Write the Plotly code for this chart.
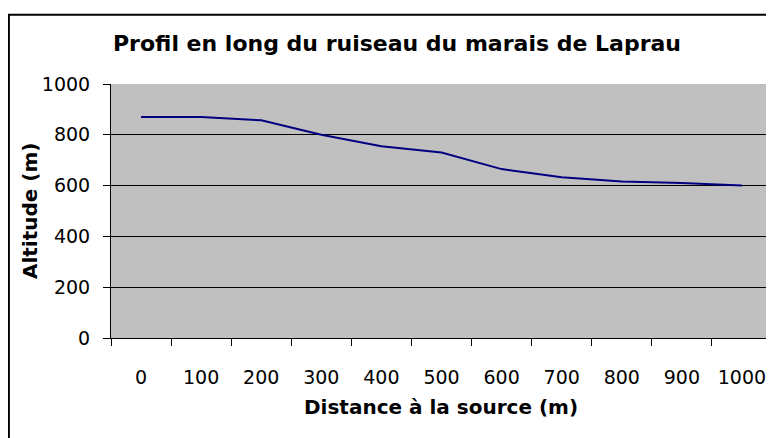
import plotly.graph_objects as go

distances = ["0", "100", "200", "300", "400", "500", "600", "700", "800", "900", "1000"]
altitudes = [870, 870, 857, 800, 755, 730, 665, 633, 616, 610, 600]

W, H = 774, 438
OFF = 8  # page body margin offset
# target plot area in screen pixels
PX0, PX1 = 110.7, 772.3
PY0, PY1 = 84.3, 338.3
L = PX0 - OFF
R = W - (PX1 - OFF)
T = PY0 - OFF
B = H - (PY1 - OFF)
pw = PX1 - PX0
ph = PY1 - PY0

def px_x(x):
    return (x - PX0) / pw

def px_y(y):
    return (PY1 - y) / ph

FONT = "DejaVu Sans"

fig = go.Figure()
fig.add_trace(go.Scatter(
    x=distances, y=altitudes, mode="lines",
    line=dict(color="#000080", width=2),
    hoverinfo="x+y", showlegend=False,
))

fig.update_layout(
    width=W, height=H,
    margin=dict(l=L, r=R, t=T, b=B, autoexpand=False),
    paper_bgcolor="white",
    plot_bgcolor="#C0C0C0",
    font=dict(family=FONT, size=19, color="black"),
    showlegend=False,
)

fig.update_xaxes(
    type="category", range=[-0.5, 10.5], tickson="boundaries",
    ticks="outside", ticklen=7, tickcolor="black", tickwidth=1,
    showgrid=False, showline=True, linecolor="black", linewidth=1,
    tickfont=dict(family=FONT, size=19, color="black"),
    ticklabelstandoff=22, zeroline=False,
)
fig.update_yaxes(
    range=[0, 1000], dtick=200, tick0=0,
    ticks="outside", ticklen=7, tickcolor="black", tickwidth=1,
    showgrid=True, gridcolor="black", gridwidth=1,
    showline=True, linecolor="black", linewidth=1,
    tickfont=dict(family=FONT, size=19, color="black"),
    ticklabelstandoff=9, zeroline=False,
)

# plot area border (grey) on right
fig.add_shape(type="line", xref="paper", yref="paper", x0=1, x1=1, y0=0, y1=1,
              line=dict(color="#808080", width=1))
# chart area border
fig.add_shape(type="rect", xref="paper", yref="paper",
              x0=px_x(8.5), x1=px_x(800), y0=px_y(15), y1=px_y(460),
              line=dict(color="black", width=2), fillcolor="rgba(0,0,0,0)", layer="above")

fig.add_annotation(text="<b>Profil en long du ruiseau du marais de Laprau</b>",
                   xref="paper", yref="paper", x=px_x(397), y=px_y(44),
                   xanchor="center", yanchor="middle", showarrow=False,
                   font=dict(family=FONT, size=22, color="black"))
fig.add_annotation(text="<b>Distance à la source (m)</b>",
                   xref="paper", yref="paper", x=px_x(441), y=px_y(407),
                   xanchor="center", yanchor="middle", showarrow=False,
                   font=dict(family=FONT, size=20, color="black"))
fig.add_annotation(text="<b>Altitude (m)</b>", textangle=-90,
                   xref="paper", yref="paper", x=px_x(29), y=px_y(211),
                   xanchor="center", yanchor="middle", showarrow=False,
                   font=dict(family=FONT, size=20, color="black"))

fig.write_html("out.html")
